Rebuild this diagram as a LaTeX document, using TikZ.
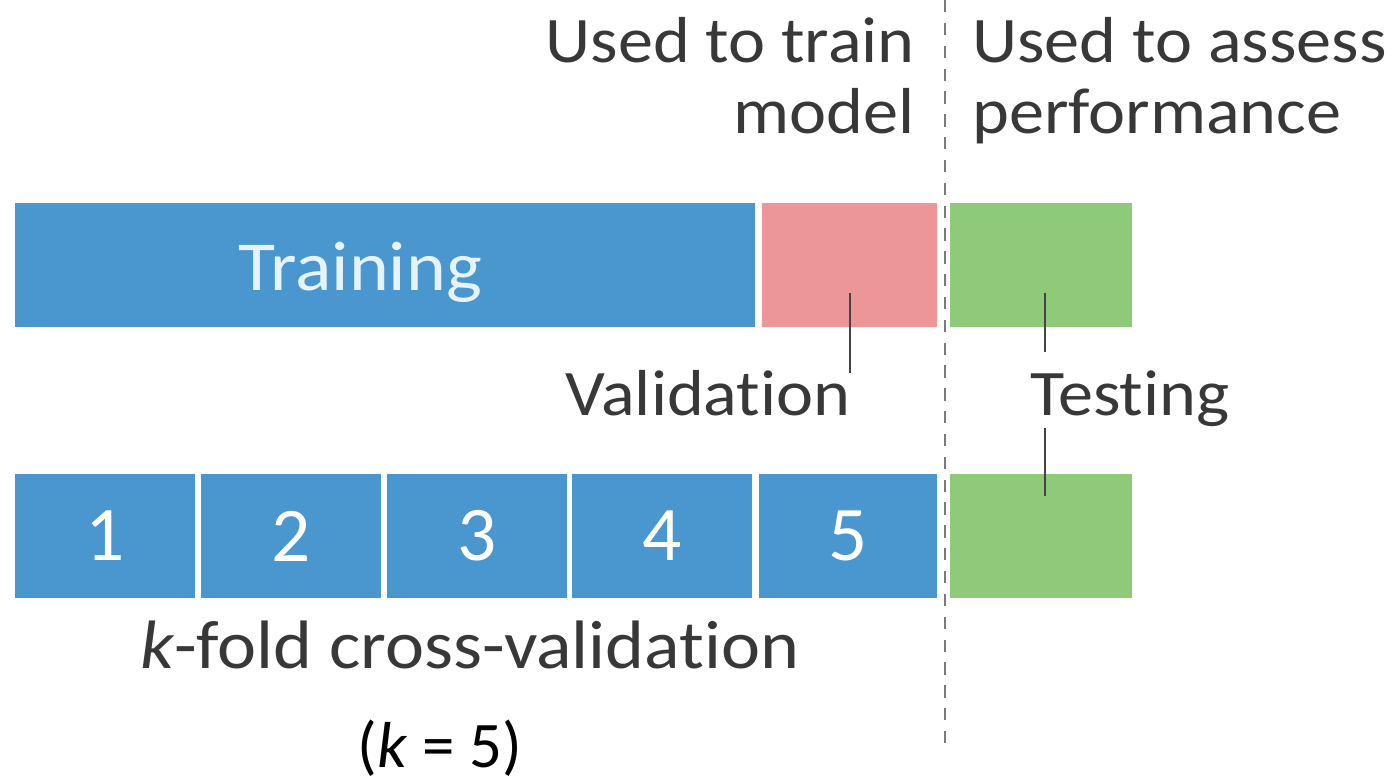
\documentclass[tikz,border=0pt]{standalone}
\usepackage{fontspec}
\setmainfont{Carlito}[Ligatures=NoCommon]
\newfontfamily\labelfont{Carlito}[FakeStretch=1.08, Ligatures=NoCommon]
% keep "t" and "i" as separate glyphs
\newcommand\tbreak{t\kern0pt }
\begin{document}
\begin{tikzpicture}[x=0.02cm,y=-0.02cm,
  bar/.style={inner sep=0pt, outer sep=0pt, minimum height=2.48cm},
  trainc/.style={bar, fill=trainblue},
  valc/.style={bar, fill=valpink},
  testc/.style={bar, fill=testgreen},
  fold/.style={trainc, minimum width=3.6cm, text=white, font=\fontsize{44}{50}\selectfont},
  lbl/.style={inner sep=0pt, text=labelgray, font=\labelfont\fontsize{37}{44}\selectfont},
  leader/.style={draw=leadergray, line width=1.2pt},
  divider/.style={draw=dashgray, line width=1.6pt, dash pattern=on 7pt off 6pt}
]
\definecolor{trainblue}{HTML}{4A96CF}
\definecolor{valpink}{HTML}{EC9698}
\definecolor{testgreen}{HTML}{8FCA7B}
\definecolor{labelgray}{HTML}{383838}
\definecolor{leadergray}{HTML}{444444}
\definecolor{dashgray}{HTML}{7A7A7A}
\definecolor{traintext}{HTML}{E6F3FA}

\useasboundingbox (0,0) rectangle (1399,781);

% holdout split
\node[trainc, minimum width=14.8cm] (train) at (385,265) {};
\node[inner sep=0pt, text=traintext, font=\labelfont\fontsize{40}{48}\selectfont, anchor=base] (traintxt) at (360,290) {Training};
\node[valc, minimum width=3.5cm] (val) at (849.5,265) {};
\node[testc, minimum width=3.64cm] (test) at (1041,265) {};

% k-fold split
\node[fold] (f1) at (105,536) {1};
\node[fold] (f2) at (291,536) {2};
\node[fold] (f3) at (477,536) {3};
\node[fold] (f4) at (662,536) {4};
\node[fold, minimum width=3.56cm] (f5) at (848,536) {5};
\node[testc, minimum width=3.64cm] (ktest) at (1041,536) {};

% divider between model fitting and assessment
\coordinate (dtop) at (945,0);
\coordinate (dbot) at (945,745);
\draw[divider] (dtop) -- (dbot);

% headings
\node[lbl, anchor=base east] (h1) at (915,62) {Used to train};
\node[lbl, anchor=base east] (h2) at (915,133) {model};
\node[lbl, anchor=base west] (h3) at (972,62) {Used to assess};
\node[lbl, anchor=base west] (h4) at (972,133) {performance};

% callouts
\node[lbl, anchor=base west] (vlab) at (565,415) {Valida\tbreak ion};
\node[lbl, anchor=base west] (tlab) at (1030,415) {Tes\tbreak ing};
\coordinate (vin) at (850,293);
\coordinate (vend) at (850,373);
\coordinate (tin) at (1045,293);
\coordinate (tend) at (1045,352);
\coordinate (tlow) at (1045,428);
\coordinate (kin) at (1045,496);
\draw[leader] (vin) -- (vend);
\draw[leader] (tin) -- (tend);
\draw[leader] (tlow) -- (kin);

\node[lbl, anchor=base west, font=\labelfont\fontsize{39}{46}\selectfont] (kfold) at (140,668) {\textit{k}-fold cross-valida\tbreak ion};
\node[inner sep=0pt, anchor=base west, text=black, font=\fontsize{37}{44}\selectfont] (kval) at (357,767) {(\textit{k} = 5)};
\end{tikzpicture}
\end{document}
